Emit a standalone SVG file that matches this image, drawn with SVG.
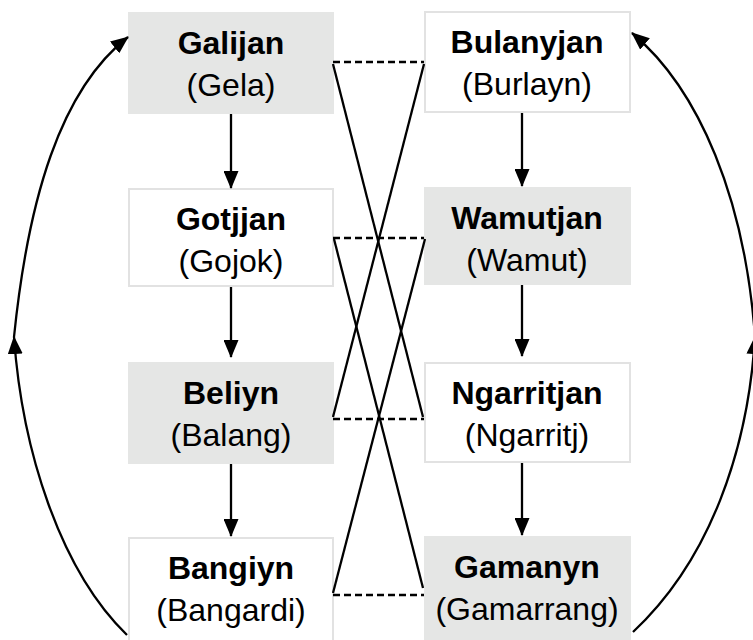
<svg xmlns="http://www.w3.org/2000/svg" width="753" height="640" viewBox="0 0 753 640">
<style>
.box{stroke:#e2e2e2;stroke-width:2}
.g{fill:#e5e6e5;stroke:#e5e6e5}
.w{fill:#fff}
.t{font-family:"Liberation Sans",Arial,sans-serif;font-size:32px;fill:#000;text-anchor:middle}
.b{font-weight:bold}
.ln{stroke:#000;stroke-width:2.3;fill:none}
.d{stroke-dasharray:7,4}
</style>
<defs>
<marker id="ah" markerUnits="userSpaceOnUse" markerWidth="18" markerHeight="15" refX="17" refY="7.5" orient="auto">
<path d="M0,0 L18,7.5 L0,15 z" fill="#000"/>
</marker>
</defs>
<rect width="753" height="640" fill="#fff"/>
<g id="galijan"><rect class="box g" x="129" y="13" width="204" height="100"/><text class="t b" x="231" y="54">Galijan</text><text class="t" x="231" y="96">(Gela)</text></g>
<g id="gotjjan"><rect class="box w" x="129" y="189" width="204" height="97"/><text class="t b" x="231" y="230">Gotjjan</text><text class="t" x="231" y="272">(Gojok)</text></g>
<g id="beliyn"><rect class="box g" x="129" y="363" width="204" height="100"/><text class="t b" x="231" y="404">Beliyn</text><text class="t" x="231" y="446">(Balang)</text></g>
<g id="bangiyn"><rect class="box w" x="129" y="538" width="204" height="104"/><text class="t b" x="231" y="579">Bangiyn</text><text class="t" x="231" y="621">(Bangardi)</text></g>
<g id="bulanyjan"><rect class="box w" x="425" y="12" width="205" height="100"/><text class="t b" x="527" y="53">Bulanyjan</text><text class="t" x="527" y="95">(Burlayn)</text></g>
<g id="wamutjan"><rect class="box g" x="425" y="188" width="205" height="96"/><text class="t b" x="527" y="229">Wamutjan</text><text class="t" x="527" y="271">(Wamut)</text></g>
<g id="ngarritjan"><rect class="box w" x="425" y="363" width="205" height="99"/><text class="t b" x="527" y="404">Ngarritjan</text><text class="t" x="527" y="446">(Ngarritj)</text></g>
<g id="gamanyn"><rect class="box g" x="425" y="537" width="205" height="105"/><text class="t b" x="527" y="578">Gamanyn</text><text class="t" x="527" y="620">(Gamarrang)</text></g>
<g id="connectors">
<line class="ln" x1="231" y1="114" x2="231" y2="188" marker-end="url(#ah)"/>
<line class="ln" x1="231" y1="287" x2="231" y2="357" marker-end="url(#ah)"/>
<line class="ln" x1="231" y1="464" x2="231" y2="536" marker-end="url(#ah)"/>
<line class="ln" x1="522" y1="113" x2="522" y2="186" marker-end="url(#ah)"/>
<line class="ln" x1="522" y1="285" x2="522" y2="356" marker-end="url(#ah)"/>
<line class="ln" x1="522" y1="463" x2="522" y2="535" marker-end="url(#ah)"/>
<line class="ln d" x1="333" y1="62" x2="424" y2="62"/>
<line class="ln d" x1="333" y1="238" x2="424" y2="238"/>
<line class="ln d" x1="333" y1="419" x2="424" y2="419"/>
<line class="ln d" x1="333" y1="595" x2="424" y2="595"/>
<line class="ln" x1="333" y1="64" x2="423" y2="417"/>
<line class="ln" x1="424" y1="64" x2="333" y2="417"/>
<line class="ln" x1="334" y1="239" x2="423" y2="588"/>
<line class="ln" x1="425" y1="239" x2="333" y2="593"/>
<path class="ln" d="M14,337 C28,200 60,90 128,37" marker-end="url(#ah)"/>
<path class="ln" d="M127,635 C60,570 22,450 14,337" marker-end="url(#ah)"/>
<path class="ln" d="M755,337 C745,200 700,90 632,33" marker-end="url(#ah)"/>
<path class="ln" d="M633,632 C710,560 748,450 755,337" marker-end="url(#ah)"/>
</g>
</svg>
